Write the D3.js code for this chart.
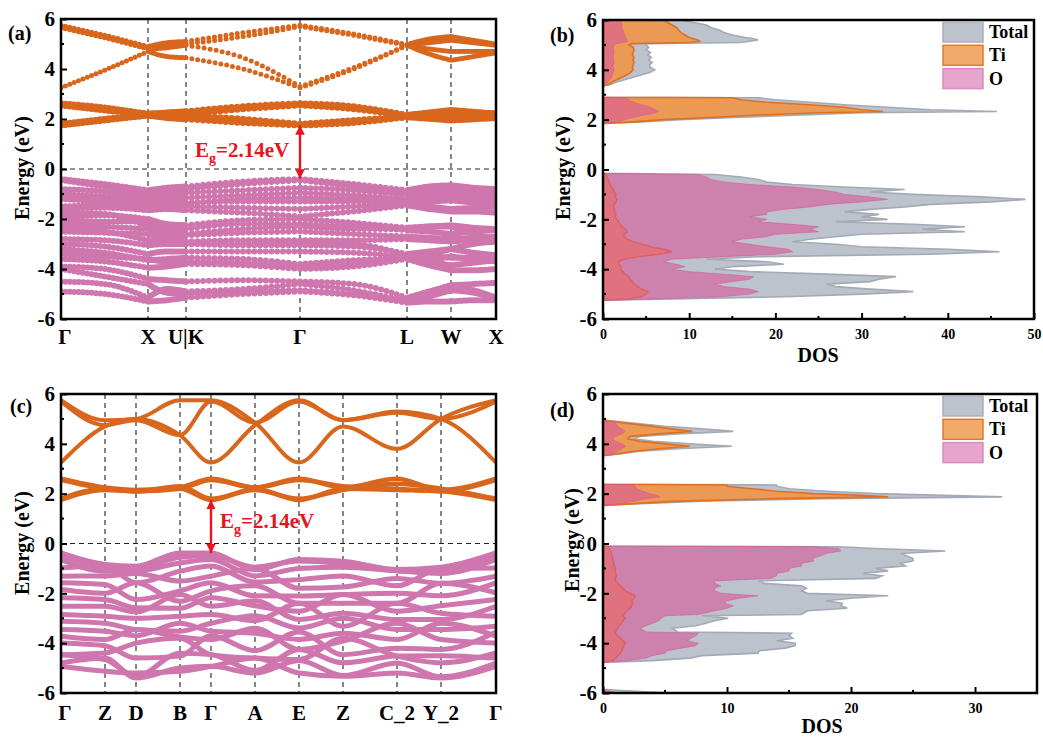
<!DOCTYPE html>
<html>
<head>
<meta charset="utf-8">
<script src="https://cdn.jsdelivr.net/npm/d3@7"></script>
<style>
  body { margin: 0; background: #fff; }
  svg { display: block; }
</style>
</head>
<body>
<svg id="fig" width="1043" height="739"></svg>
<script>
// ---------------- data ----------------
const energyMajor = [-6, -4, -2, 0, 2, 4, 6];
const energyMinor = [-5, -3, -1, 1, 3, 5];
const gapEV = 2.14;          // band gap quoted on both band panels
const vbmA = -0.39;          // valence band maximum, panel (a)
const vbmC = -0.39;          // valence band maximum, panel (c)

// (a) high-symmetry path
const kLabelsA = ["Γ", "X", "U|K", "Γ", "L", "W", "X"];
const kPosA = [0, 0.87, 1.25, 2.39, 3.46, 3.90, 4.35];
const kNodesA = [0, 0.435, 0.87, 1.06, 1.25, 1.82, 2.39, 2.925, 3.46, 3.68, 3.90, 4.125, 4.35];

const t2gA = [
  [1.75, 1.95, 2.15, 2.05, 2.00, 1.85, 1.75, 1.85, 2.08, 2.02, 1.95, 2.00, 2.05],
  [1.77, 1.97, 2.15, 2.10, 2.10, 1.90, 1.77, 1.90, 2.10, 2.08, 2.05, 2.08, 2.10],
  [1.80, 2.00, 2.15, 2.15, 2.15, 2.00, 1.80, 1.95, 2.10, 2.15, 2.25, 2.20, 2.15],
  [2.55, 2.35, 2.18, 2.15, 2.20, 2.40, 2.55, 2.40, 2.12, 2.20, 2.30, 2.25, 2.22],
  [2.60, 2.40, 2.20, 2.20, 2.25, 2.45, 2.60, 2.45, 2.15, 2.25, 2.35, 2.28, 2.20],
  [2.62, 2.45, 2.20, 2.25, 2.30, 2.50, 2.62, 2.50, 2.15, 2.20, 2.22, 2.20, 2.20]
];
const egA = [
  [5.75, 5.35, 4.90, 5.05, 5.10, 5.45, 5.75, 5.40, 4.98, 5.20, 5.30, 5.15, 5.00],
  [5.70, 5.30, 4.85, 4.95, 5.00, 5.30, 5.70, 5.35, 4.95, 5.05, 5.15, 5.05, 4.95],
  [5.65, 5.25, 4.80, 4.85, 4.95, 4.45, 3.30, 4.05, 4.95, 4.80, 4.70, 4.70, 4.70],
  [3.25, 3.95, 4.70, 4.50, 4.45, 4.00, 3.25, 4.00, 4.95, 4.60, 4.35, 4.50, 4.65]
];
const valA = [
  [-0.40, -0.60, -0.85, -0.75, -0.70, -0.50, -0.40, -0.60, -0.85, -0.70, -0.65, -0.75, -0.80],
  [-0.45, -0.70, -0.95, -0.85, -0.80, -0.60, -0.45, -0.70, -0.95, -0.85, -0.80, -0.90, -0.95],
  [-0.80, -0.90, -1.10, -1.00, -0.95, -0.85, -0.75, -0.85, -1.05, -0.95, -0.90, -1.00, -1.10],
  [-1.00, -1.10, -1.25, -1.20, -1.15, -1.05, -0.95, -1.05, -1.20, -1.15, -1.10, -1.20, -1.30],
  [-1.10, -1.20, -1.50, -1.45, -1.40, -1.20, -1.15, -1.20, -1.30, -1.20, -1.15, -1.25, -1.35],
  [-1.20, -1.30, -1.40, -1.35, -1.35, -1.30, -1.30, -1.30, -1.35, -1.30, -1.25, -1.35, -1.40],
  [-1.50, -1.45, -1.55, -1.50, -1.50, -1.55, -1.60, -1.50, -1.40, -1.50, -1.60, -1.55, -1.50],
  [-1.60, -1.55, -1.65, -1.60, -1.65, -1.75, -1.90, -1.70, -1.45, -1.60, -1.70, -1.70, -1.75],
  [-1.75, -1.80, -2.30, -2.50, -2.60, -2.40, -2.30, -2.40, -2.40, -2.30, -2.30, -2.60, -2.85],
  [-1.90, -1.85, -2.00, -2.20, -2.25, -2.05, -2.00, -2.15, -2.35, -2.30, -2.25, -2.35, -2.40],
  [-2.00, -2.10, -2.10, -2.35, -2.40, -2.20, -2.20, -2.30, -2.45, -2.50, -2.60, -2.50, -2.45],
  [-2.20, -2.30, -2.40, -2.60, -2.65, -2.55, -2.50, -2.60, -2.70, -2.75, -2.80, -2.75, -2.70],
  [-2.35, -2.50, -2.85, -2.90, -3.00, -3.00, -2.95, -3.00, -3.45, -3.40, -3.20, -3.00, -2.90],
  [-2.50, -2.55, -2.60, -2.75, -2.90, -2.85, -2.85, -2.85, -2.80, -2.85, -2.90, -2.85, -2.85],
  [-2.80, -2.85, -3.05, -3.00, -3.00, -3.05, -3.05, -3.10, -3.40, -3.30, -3.20, -3.35, -3.45],
  [-3.00, -3.10, -3.40, -3.30, -3.30, -3.30, -3.30, -3.35, -3.50, -3.50, -3.55, -3.55, -3.50],
  [-3.20, -3.35, -3.65, -3.60, -3.55, -3.60, -3.80, -3.65, -3.55, -3.70, -3.85, -3.75, -3.65],
  [-3.40, -3.50, -3.60, -3.70, -3.70, -3.75, -3.90, -3.80, -3.50, -3.60, -3.50, -3.60, -3.70],
  [-3.60, -3.70, -3.95, -3.90, -3.80, -3.85, -4.00, -3.90, -3.60, -3.85, -4.05, -4.05, -4.00],
  [-3.90, -4.00, -4.40, -4.45, -4.50, -4.45, -4.50, -4.60, -5.15, -4.90, -4.65, -4.60, -4.55],
  [-4.00, -4.30, -4.60, -4.95, -5.00, -4.90, -4.85, -5.00, -5.25, -5.00, -4.75, -4.85, -5.15],
  [-4.50, -4.60, -5.15, -4.80, -4.90, -4.80, -4.60, -4.85, -5.30, -5.10, -4.85, -4.95, -5.20],
  [-4.90, -5.00, -5.30, -5.25, -5.15, -5.00, -4.90, -5.05, -5.35, -5.30, -5.30, -5.25, -5.25]
];

// (c) high-symmetry path
const kLabelsC = ["Γ", "Z", "D", "B", "Γ", "A", "E", "Z", "C_2", "Y_2", "Γ"];
const kPosC = [0, 0.44, 0.75, 1.19, 1.50, 1.94, 2.38, 2.82, 3.36, 3.80, 4.35];

const t2gC = [
  [1.75, 2.15, 2.10, 2.20, 1.75, 2.20, 1.75, 2.20, 2.15, 2.10, 1.75],
  [2.60, 2.25, 2.15, 2.25, 2.60, 2.25, 2.60, 2.25, 2.60, 2.15, 2.60],
  [1.80, 2.20, 2.10, 2.30, 1.80, 2.15, 1.80, 2.15, 2.40, 2.20, 1.80],
  [2.55, 2.20, 2.10, 2.20, 2.55, 2.25, 2.55, 2.30, 2.20, 2.10, 2.55]
];
const egC = [
  [5.75, 4.95, 5.00, 5.75, 5.75, 4.85, 3.25, 4.70, 3.80, 5.00, 5.75],
  [3.25, 4.70, 5.00, 4.35, 3.25, 4.75, 5.75, 4.95, 5.30, 5.00, 3.25],
  [5.70, 4.75, 4.95, 4.35, 5.70, 4.85, 5.70, 4.95, 5.25, 5.00, 5.70]
];
const valC = [
  [-0.38, -0.84, -0.91, -0.38, -0.38, -1.05, -0.64, -0.71, -1.04, -0.95, -0.38],
  [-0.45, -0.95, -1.00, -0.55, -0.48, -0.95, -0.70, -0.80, -1.08, -1.05, -0.45],
  [-0.64, -1.11, -1.10, -0.78, -0.64, -1.30, -1.00, -0.95, -1.10, -1.20, -0.64],
  [-0.98, -0.90, -1.58, -1.11, -0.90, -1.55, -1.45, -1.30, -1.70, -1.00, -0.98],
  [-1.31, -1.30, -1.20, -1.51, -1.31, -1.00, -1.80, -1.75, -1.40, -1.60, -1.31],
  [-1.58, -1.65, -2.25, -1.90, -1.58, -2.10, -2.11, -2.05, -2.00, -2.10, -1.58],
  [-1.85, -2.00, -1.58, -2.32, -1.90, -1.70, -2.40, -2.40, -2.40, -1.60, -1.98],
  [-2.18, -2.25, -2.58, -2.60, -2.18, -2.50, -2.72, -2.05, -2.72, -2.50, -2.25],
  [-2.52, -2.52, -2.75, -2.05, -2.52, -2.30, -3.05, -2.80, -3.05, -3.05, -2.52],
  [-2.85, -2.92, -3.00, -2.92, -2.85, -3.10, -2.40, -3.32, -2.40, -2.80, -2.92],
  [-3.12, -3.20, -3.45, -3.52, -3.20, -2.90, -3.39, -3.00, -3.45, -3.45, -3.32],
  [-3.45, -3.52, -3.70, -3.20, -3.52, -3.60, -3.85, -3.60, -3.85, -3.20, -3.72],
  [-3.72, -3.85, -3.45, -3.75, -3.85, -3.40, -4.25, -3.92, -3.20, -3.85, -3.99],
  [-3.99, -4.10, -4.60, -4.52, -3.70, -4.30, -3.55, -4.46, -4.20, -4.25, -3.55],
  [-4.46, -4.39, -4.00, -3.80, -4.46, -4.60, -4.66, -3.80, -4.52, -4.79, -4.39],
  [-4.46, -4.66, -5.33, -4.40, -4.46, -5.10, -4.25, -4.79, -4.52, -4.50, -4.60],
  [-4.93, -5.13, -5.20, -5.13, -4.93, -4.60, -5.20, -5.33, -5.20, -5.40, -4.93],
  [-4.80, -4.60, -5.40, -5.00, -4.93, -5.20, -4.70, -5.30, -4.80, -5.35, -4.80]
];

// (b) projected density of states
const energyB = [
  -5.25, -5.2, -5.1, -5.0, -4.9, -4.8, -4.7, -4.6, -4.5, -4.4, -4.3, -4.2, -4.1, -4.0, -3.9, -3.8, -3.7, -3.6,
  -3.5, -3.4, -3.3, -3.2, -3.1, -3.0, -2.9, -2.8, -2.7, -2.6, -2.5, -2.4, -2.3, -2.2, -2.1, -2.0, -1.9, -1.8,
  -1.7, -1.6, -1.5, -1.4, -1.3, -1.2, -1.1, -1.0, -0.9, -0.8, -0.7, -0.6, -0.5, -0.4, -0.3, -0.2, -0.15,
  1.85, 1.9, 2.0, 2.1, 2.2, 2.28, 2.33, 2.4, 2.5, 2.6, 2.7, 2.8, 2.88, 2.9,
  3.35, 3.4, 3.5, 3.6, 3.7, 3.8, 3.9, 4.0, 4.1, 4.2, 4.3, 4.4, 4.5, 4.6, 4.7, 4.8, 4.9, 5.0, 5.05,
  5.1, 5.15, 5.2, 5.25, 5.3, 5.4, 5.5, 5.6, 5.7, 5.8, 5.9, 6.0, 6.1
];
const totalB = [
  0, 8, 22, 30, 36, 31, 27, 26, 31, 32, 34, 26, 17, 13, 15, 21, 19, 12,
  18, 38, 46, 40, 30, 27, 22, 24, 27, 30, 42, 37, 42, 36, 27, 33, 30, 32,
  28, 31, 35, 38, 45, 49, 44, 36, 31, 35, 28, 22, 19, 18, 16, 13, 0,
  0, 4, 9, 16, 24, 30, 45.7, 38, 33, 28, 24, 20, 18, 0,
  0, 0.8, 1.5, 2.5, 3.5, 4.5, 5.5, 6, 5.5, 5.4, 5.7, 5.3, 5.6, 5.2, 5.5, 5.0, 5.3, 5.0, 5.0,
  16, 17, 18, 17.5, 16.5, 15, 14, 13.5, 12.5, 12, 10.5, 9, 8
];
const tiB = [
  0, 3, 4.5, 5, 5.2, 4.5, 4, 3.6, 3.4, 3.1, 3, 2.6, 2.3, 2, 2.1, 1.8, 1.8, 2.4,
  4, 6.5, 8, 7, 5.5, 4.5, 3.5, 2.8, 2.5, 2.4, 2.8, 2.6, 2.2, 2, 1.8, 1.6, 1.4, 1.5,
  1.3, 1.4, 1.2, 1.3, 1.5, 1.6, 1.4, 1.5, 1.3, 1.2, 1.0, 0.8, 0.7, 0.6, 0.5, 0.4, 0,
  0, 3, 7, 13, 19, 25, 32.5, 30, 28, 24, 19, 16, 15, 0,
  0, 0.5, 1, 1.6, 2.2, 2.8, 3.2, 3.5, 3.4, 3.5, 3.6, 3.5, 3.6, 3.4, 3.5, 3.6, 3.5, 3.0, 3.4,
  10, 11.2, 11, 10.5, 10, 9.5, 9, 8.8, 8.5, 8, 7.5, 7, 6.5
];
const oB = [
  0, 6, 14, 17, 18, 17, 14, 13, 15, 17, 17.5, 14, 10, 8, 9.5, 8.5, 7, 8,
  14, 20, 22, 21.5, 19, 17, 15, 16, 19, 20, 25, 24, 25, 22, 18, 19, 17, 19,
  19, 21, 24, 26, 30, 33, 31, 28, 27, 25, 22, 17, 14, 12.5, 12, 11, 0,
  0, 1.5, 2.5, 3.5, 5, 6, 6.5, 6, 5.5, 4.5, 3.5, 3, 2.5, 0,
  0, 0.3, 0.5, 0.8, 1, 1.1, 1.2, 1.3, 1.2, 1.2, 1.3, 1.2, 1.2, 1.2, 1.3, 1.2, 1.2, 1.3, 1.5,
  2.5, 2.8, 2.8, 2.7, 2.6, 2.5, 2.4, 2.3, 2.2, 2.2, 2.1, 2, 2
];

// (d) projected density of states
const energyD = [
  -6.1, -6.0, -5.9, -5.85,
  -4.77, -4.7, -4.6, -4.5, -4.4, -4.3, -4.2, -4.1, -4.0, -3.9, -3.8, -3.7, -3.6, -3.55, -3.4, -3.3, -3.2,
  -3.1, -3.0, -2.9, -2.85, -2.7, -2.6, -2.5, -2.4, -2.3, -2.2, -2.1, -2.0, -1.9, -1.8, -1.7, -1.6, -1.5,
  -1.4, -1.3, -1.2, -1.1, -1.0, -0.9, -0.8, -0.7, -0.6, -0.5, -0.4, -0.3, -0.2, -0.13, -0.1,
  1.53, 1.6, 1.7, 1.8, 1.87, 1.95, 2.0, 2.1, 2.2, 2.3, 2.35, 2.38,
  3.52, 3.6, 3.7, 3.8, 3.9, 4.0, 4.1, 4.2, 4.3, 4.4, 4.5, 4.6, 4.7, 4.85, 4.95
];
const totalD = [
  6, 5.5, 1.5, 0,
  0, 4, 7, 8, 12.5, 12.6, 14.7, 15.5, 15.5, 14, 15.3, 15, 15.2, 6, 5.6, 7.5, 8.3,
  9, 10.1, 8, 16, 16.5, 19.7, 19.2, 19.3, 18, 20, 23, 16.5, 16, 16.4, 16, 13, 12.6,
  22, 22.5, 21, 23, 22, 24.4, 24, 25, 25, 24.5, 24, 27.6, 22, 19, 0,
  0, 3, 8, 18, 32.2, 26, 22, 18, 15, 14, 14, 0,
  0, 1.5, 3, 6, 10.4, 7, 4, 2.5, 3, 6, 10.5, 8, 5, 2, 0
];
const tiD = [
  0.2, 0.2, 0.1, 0,
  0, 0.8, 1, 1.2, 1.4, 1.5, 1.6, 1.7, 1.8, 1.6, 1.4, 1.2, 1.0, 1.0, 1.2, 1.3, 1.5,
  1.6, 1.8, 1.6, 1.7, 1.9, 2.2, 2.3, 2.4, 2.3, 2.5, 2.6, 2.2, 1.8, 1.6, 1.4, 1.2, 1.0,
  1.0, 1.1, 1.0, 1.0, 1.0, 0.9, 0.9, 0.8, 0.8, 0.7, 0.7, 0.6, 0.5, 0.4, 0,
  0, 2.5, 6, 14, 23, 20, 17, 14, 12, 10, 10, 0,
  0, 1.2, 2.5, 4.5, 7, 5, 3, 2, 2.2, 4.5, 7.2, 5.5, 4, 1.5, 0
];
const oD = [
  1.2, 1, 0.5, 0,
  0, 2, 3.5, 4, 5, 5.2, 6.3, 7.5, 7.7, 6.8, 7.1, 7.5, 7.7, 3.5, 3, 3.5, 4,
  4.5, 4.7, 5, 7.7, 9, 10, 10.5, 9.8, 10, 11, 12.5, 9.5, 9, 9, 9.5, 9, 9,
  13.5, 14, 14, 15, 15, 16, 16, 17, 16.9, 17.5, 18, 19.2, 19, 17, 0,
  0, 1.5, 2.5, 3.5, 4.6, 4.2, 3.8, 3.2, 2.8, 2.5, 2.5, 0,
  0, 0.8, 1.2, 1.5, 1.8, 1.5, 1, 0.8, 1, 1.5, 1.8, 1.5, 1.2, 1, 0
];

const legendItems = ["Total", "Ti", "O"];
const dosTicksB = [0, 10, 20, 30, 40, 50];
const dosMinorB = [5, 15, 25, 35, 45];
const dosTicksD = [0, 10, 20, 30];
const dosMinorD = [5, 15, 25];

// ---------------- styling ----------------
const SERIF = '"Liberation Serif","Times New Roman",serif';
const C_ORANGE = "#d9661d";
const C_PINK = "#cf76ae";
const C_RED = "#e8141e";
const svg = d3.select("#fig");
const defs = svg.append("defs");

defs.append("marker")
  .attr("id", "ahead").attr("viewBox", "0 0 10 10")
  .attr("refX", 10).attr("refY", 5)
  .attr("markerWidth", 4).attr("markerHeight", 4)
  .attr("orient", "auto-start-reverse")
  .append("path").attr("d", "M0,0 L10,5 L0,10 z").attr("fill", C_RED);

function clip(id, f) {
  defs.append("clipPath").attr("id", id).append("rect")
    .attr("x", f.l).attr("y", f.t).attr("width", f.r - f.l).attr("height", f.b - f.t);
}

function energyAxis(g, f, y, titleX, titleY) {
  g.append("g").attr("transform", `translate(${f.l},0)`)
    .call(d3.axisLeft(y).tickValues(energyMajor).tickFormat(d => String(d)).tickSize(-6).tickPadding(6))
    .call(s => s.select(".domain").remove())
    .call(s => s.selectAll("line").attr("stroke", "#000").attr("stroke-width", 2))
    .call(s => s.selectAll("text").attr("font-family", SERIF).attr("font-weight", "bold")
      .attr("font-size", 21).attr("fill", "#000"));
  g.selectAll(null).data(energyMinor).join("line")
    .attr("x1", f.l).attr("x2", f.l + 3).attr("y1", d => y(d)).attr("y2", d => y(d))
    .attr("stroke", "#000").attr("stroke-width", 2);
  g.append("text")
    .attr("transform", `translate(${titleX},${titleY}) rotate(-90)`)
    .attr("text-anchor", "middle").attr("dominant-baseline", "central")
    .attr("font-family", SERIF).attr("font-weight", "bold").attr("font-size", 20)
    .text("Energy (eV)");
}

function frame(g, f) {
  g.append("rect").attr("x", f.l).attr("y", f.t).attr("width", f.r - f.l).attr("height", f.b - f.t)
    .attr("fill", "none").attr("stroke", "#000").attr("stroke-width", 2.5);
}

function panelTag(g, x, y, s) {
  g.append("text").attr("x", x).attr("y", y)
    .attr("font-family", SERIF).attr("font-weight", "bold").attr("font-size", 20).text(s);
}

// index of the interior Γ point, where the gap is direct
function interiorGamma(labels) {
  return labels.indexOf("Γ", 1);
}

// band structure panel; dotted=true draws each path segment as a row of k-points
function bandPanel(id, f, kPos, kLabels, kNodes, groups, dotted, vbm, labelPos, labelY, tagPos, titlePos) {
  const x = d3.scaleLinear().domain([kPos[0], kPos[kPos.length - 1]]).range([f.l, f.r]);
  const y = d3.scaleLinear().domain([-6, 6]).range([f.b, f.t]);
  const g = svg.append("g");
  clip("clip-" + id, f);

  // high-symmetry guides and Fermi level
  g.selectAll(null).data(kPos.slice(1, -1)).join("line")
    .attr("x1", d => x(d)).attr("x2", d => x(d)).attr("y1", f.t).attr("y2", f.b)
    .attr("stroke", "#222").attr("stroke-width", 1.1).attr("stroke-dasharray", "5,4");
  g.append("line").attr("x1", f.l).attr("x2", f.r).attr("y1", y(0)).attr("y2", y(0))
    .attr("stroke", "#222").attr("stroke-width", 1.1).attr("stroke-dasharray", "5,4");

  const plot = g.append("g").attr("clip-path", `url(#clip-${id})`);
  const line = d3.line().x(d => x(d[0])).y(d => y(d[1])).curve(d3.curveMonotoneX);

  groups.forEach(gr => {
    gr.bands.forEach(vals => {
      const pts = kNodes.map((k, i) => [k, vals[i]]);
      if (dotted) {
        for (let s = 0; s < kPos.length - 1; s++) {
          const seg = pts.filter(p => p[0] >= kPos[s] - 1e-9 && p[0] <= kPos[s + 1] + 1e-9);
          const path = plot.append("path").attr("d", line(seg))
            .attr("fill", "none").attr("stroke", gr.color)
            .attr("stroke-width", gr.width).attr("stroke-linecap", "round");
          const len = path.node().getTotalLength();
          path.attr("stroke-dasharray", `0 ${len / 20}`);
        }
      } else {
        plot.append("path").attr("d", line(pts))
          .attr("fill", "none").attr("stroke", gr.color)
          .attr("stroke-width", gr.width).attr("stroke-linejoin", "round");
      }
    });
  });

  // gap arrow at Γ
  const gx = x(kPos[interiorGamma(kLabels)]);
  g.append("line").attr("x1", gx).attr("x2", gx)
    .attr("y1", y(vbm + gapEV)).attr("y2", y(vbm))
    .attr("stroke", C_RED).attr("stroke-width", 2.4)
    .attr("marker-start", "url(#ahead)").attr("marker-end", "url(#ahead)");
  const t = g.append("text").attr("x", labelPos[0]).attr("y", labelPos[1])
    .attr("font-family", SERIF).attr("font-weight", "bold").attr("font-size", 21).attr("fill", C_RED);
  t.append("tspan").text("E");
  t.append("tspan").attr("font-size", 14).attr("dy", 6).text("g");
  t.append("tspan").attr("dy", -6).text("=" + gapEV.toFixed(2) + "eV");

  frame(g, f);
  energyAxis(g, f, y, titlePos[0], titlePos[1]);

  g.selectAll(null).data(kPos).join("text")
    .attr("x", (d, i) => x(d) + (i === 0 ? 4 : 0)).attr("y", labelY)
    .attr("text-anchor", "middle")
    .attr("font-family", SERIF).attr("font-weight", "bold").attr("font-size", 21)
    .text((d, i) => kLabels[i]);

  panelTag(g, tagPos[0], tagPos[1], "(" + id + ")");
}

function dosPanel(id, f, xmax, ticks, minor, E, tot, ti, o, tickY, titlePos, dosPos, legendTop, tagPos) {
  const x = d3.scaleLinear().domain([0, xmax]).range([f.l, f.r]);
  const y = d3.scaleLinear().domain([-6, 6]).range([f.b, f.t]);
  const g = svg.append("g");
  clip("clip-" + id, f);
  const plot = g.append("g").attr("clip-path", `url(#clip-${id})`);
  const area = vals => d3.area()
    .y((d, i) => y(E[i])).x0(x(0)).x1((d, i) => x(vals[i])).curve(d3.curveLinear)(vals);

  plot.append("path").attr("d", area(tot)).attr("fill", "#bcc3cc")
    .attr("stroke", "#a3aab5").attr("stroke-width", 1.6);
  plot.append("path").attr("d", area(ti)).attr("fill", "#eb9a55")
    .attr("stroke", "#e0701f").attr("stroke-width", 1.6);
  plot.append("path").attr("d", area(o)).attr("fill", "#d9569a").attr("fill-opacity", 0.6)
    .attr("stroke", "#d9569a").attr("stroke-opacity", 0.6).attr("stroke-width", 1);

  frame(g, f);

  g.append("g").attr("transform", `translate(0,${f.b})`)
    .call(d3.axisBottom(x).tickValues(ticks).tickFormat(d => String(d)).tickSize(-6).tickPadding(tickY))
    .call(s => s.select(".domain").remove())
    .call(s => s.selectAll("line").attr("stroke", "#000").attr("stroke-width", 2))
    .call(s => s.selectAll("text").attr("font-family", SERIF).attr("font-weight", "bold")
      .attr("font-size", 14).attr("fill", "#000"));
  g.selectAll(null).data(minor).join("line")
    .attr("x1", d => x(d)).attr("x2", d => x(d)).attr("y1", f.b).attr("y2", f.b - 3)
    .attr("stroke", "#000").attr("stroke-width", 2);

  energyAxis(g, f, y, titlePos[0], titlePos[1]);

  g.append("text").attr("x", dosPos[0]).attr("y", dosPos[1]).attr("text-anchor", "middle")
    .attr("font-family", SERIF).attr("font-weight", "bold").attr("font-size", 20).text("DOS");

  const sw = [
    { fill: "#bcc3cc", stroke: "#a9b0ba" },
    { fill: "#f2aa6c", stroke: "#e07a2a" },
    { fill: "#e6a5cd", stroke: "#d98cbd" }
  ];
  legendItems.forEach((name, i) => {
    const top = legendTop + i * 23.3;
    g.append("rect").attr("x", 943).attr("y", top).attr("width", 40).attr("height", 20)
      .attr("fill", sw[i].fill).attr("stroke", sw[i].stroke).attr("stroke-width", 1.5);
    g.append("text").attr("x", 989).attr("y", top + 16)
      .attr("font-family", SERIF).attr("font-weight", "bold").attr("font-size", 18).text(name);
  });

  panelTag(g, tagPos[0], tagPos[1], "(" + id + ")");
}

// ---------------- panels ----------------
bandPanel("a", { l: 61, r: 496, t: 19, b: 319 }, kPosA, kLabelsA, kNodesA, [
  { bands: t2gA, color: C_ORANGE, width: 6.5 },
  { bands: egA, color: C_ORANGE, width: 5 },
  { bands: valA, color: C_PINK, width: 6 }
], true, vbmA, [195, 157], 344, [8, 40], [22, 168]);

dosPanel("b", { l: 603, r: 1034, t: 20, b: 319 }, 50, dosTicksB, dosMinorB,
  energyB, totalB, tiB, oB, 10, [563, 168], [818, 362], 22, [550, 42]);

bandPanel("c", { l: 61, r: 496, t: 394, b: 693 }, kPosC, kLabelsC, kPosC, [
  { bands: t2gC, color: C_ORANGE, width: 4.5 },
  { bands: egC, color: C_ORANGE, width: 4 },
  { bands: valC, color: C_PINK, width: 5 }
], false, vbmC, [220, 528], 720, [10, 413], [22, 543]);

dosPanel("d", { l: 603, r: 1037, t: 394, b: 693 }, 35, dosTicksD, dosMinorD,
  energyD, totalD, tiD, oD, 10, [572, 540], [822, 733], 396, [550, 417]);
</script>
</body>
</html>
